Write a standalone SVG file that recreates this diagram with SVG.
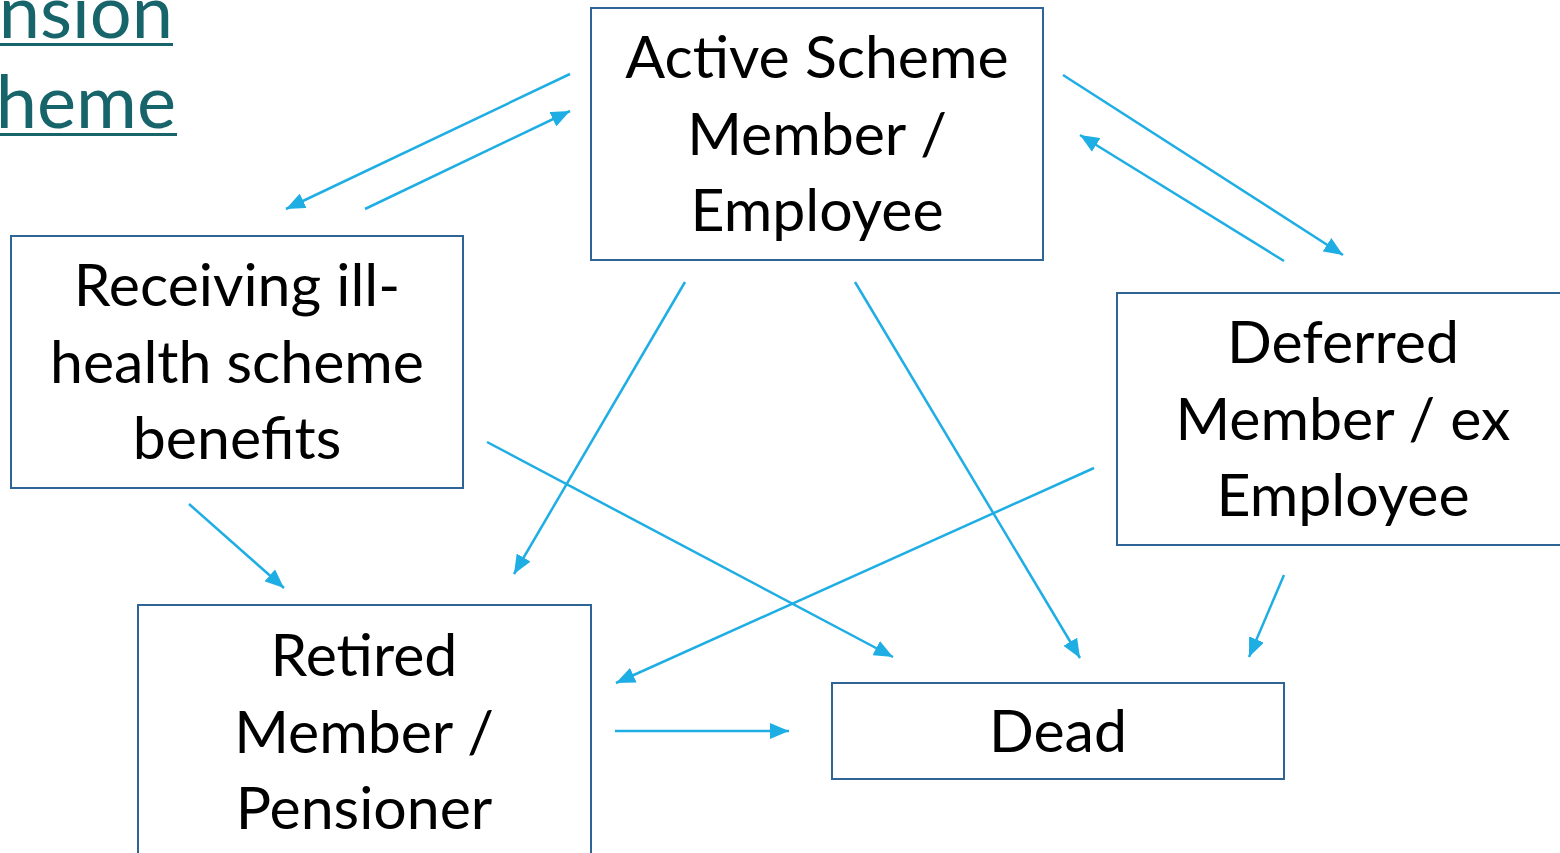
<svg xmlns="http://www.w3.org/2000/svg" width="1560" height="853" viewBox="0 0 1560 853">
  <style>
    .box { fill: #ffffff; stroke: #2F6496; stroke-width: 2; }
    .label { font-family: Lato, "Open Sans", "Liberation Sans", sans-serif; font-size: 59px; fill: #000000; text-anchor: middle; }
    .link { font-family: Lato, "Open Sans", "Liberation Sans", sans-serif; font-size: 74px; fill: #17656A; text-anchor: end; }
    .conn { stroke: #1FAEE4; stroke-width: 2.5; fill: none; marker-end: url(#arrow); }
  </style>
  <defs>
    <marker id="arrow" markerUnits="userSpaceOnUse" markerWidth="20" markerHeight="16" refX="19" refY="8" orient="auto">
      <path d="M0,0 L19,8 L0,16 Z" fill="#1FAEE4"/>
    </marker>
  </defs>
  <rect width="1560" height="853" fill="#ffffff"/>

  <!-- partially visible hyperlink heading -->
  <g id="heading">
    <text class="link" x="173" y="38">nsion</text>
    <rect x="0" y="43" width="173" height="3" fill="#17656A"/>
    <text class="link" x="176" y="128">heme</text>
    <rect x="0" y="133" width="177" height="3" fill="#17656A"/>
  </g>

  <g id="connectors">
    <line class="conn" x1="570" y1="74" x2="286" y2="209"/>
    <line class="conn" x1="365" y1="209" x2="570" y2="111"/>
    <line class="conn" x1="1063" y1="75" x2="1343" y2="255"/>
    <line class="conn" x1="1284" y1="261" x2="1080" y2="135"/>
    <line class="conn" x1="685" y1="282" x2="514" y2="574"/>
    <line class="conn" x1="855" y1="282" x2="1080" y2="658"/>
    <line class="conn" x1="487" y1="442" x2="893" y2="657"/>
    <line class="conn" x1="189" y1="504" x2="284" y2="588"/>
    <line class="conn" x1="1094" y1="468" x2="616" y2="683"/>
    <line class="conn" x1="1284" y1="575" x2="1249" y2="657"/>
    <line class="conn" x1="615" y1="731" x2="789" y2="731"/>
  </g>

  <g id="active">
    <rect class="box" x="591" y="8" width="452" height="252"/>
    <text class="label" x="817" y="78">Active Scheme</text>
    <text class="label" x="817" y="155">Member /</text>
    <text class="label" x="817" y="231">Employee</text>
  </g>

  <g id="ill-health">
    <rect class="box" x="11" y="236" width="452" height="252"/>
    <text class="label" x="237" y="306">Receiving ill-</text>
    <text class="label" x="237" y="383">health scheme</text>
    <text class="label" x="237" y="459">benefits</text>
  </g>

  <g id="deferred">
    <rect class="box" x="1117" y="293" width="460" height="252"/>
    <text class="label" x="1343" y="363">Deferred</text>
    <text class="label" x="1343" y="440">Member / ex</text>
    <text class="label" x="1343" y="516">Employee</text>
  </g>

  <g id="retired">
    <rect class="box" x="138" y="605" width="453" height="260"/>
    <text class="label" x="364" y="676">Retired</text>
    <text class="label" x="364" y="753">Member /</text>
    <text class="label" x="364" y="829">Pensioner</text>
  </g>

  <g id="dead">
    <rect class="box" x="832" y="683" width="452" height="96"/>
    <text class="label" x="1058" y="752">Dead</text>
  </g>
</svg>
